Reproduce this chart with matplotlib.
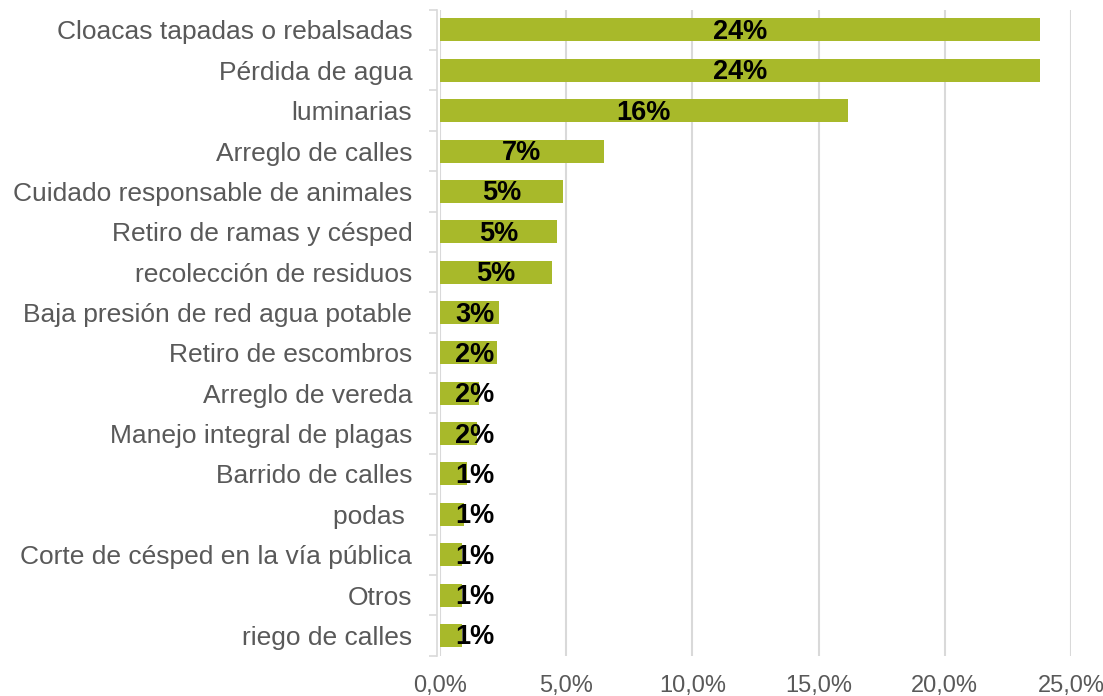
import matplotlib.pyplot as plt
import numpy as np
from matplotlib.ticker import FixedLocator, FuncFormatter

# datos (orden de arriba hacia abajo)
categorias = ["Cloacas tapadas o rebalsadas", "Pérdida de agua", "luminarias",
              "Arreglo de calles", "Cuidado responsable de animales",
              "Retiro de ramas y césped", "recolección de residuos",
              "Baja presión de red agua potable", "Retiro de escombros",
              "Arreglo de vereda", "Manejo integral de plagas", "Barrido de calles",
              "podas ", "Corte de césped en la vía pública", "Otros", "riego de calles"]
valores = [23.77, 23.77, 16.15, 6.48, 4.88, 4.64, 4.44, 2.34, 2.25,
           1.55, 1.46, 1.06, 0.95, 0.86, 0.86, 0.86]
etiquetas = ["24%", "24%", "16%", "7%", "5%", "5%", "5%", "3%", "2%",
             "2%", "2%", "1%", "1%", "1%", "1%", "1%"]
xticks = [0, 5, 10, 15, 20, 25]

plt.rcParams['font.family'] = ['Liberation Sans', 'DejaVu Sans']
gris = '#595959'
verde = '#A8B92A'

fig = plt.figure(figsize=(11.03, 6.96), dpi=100)
ax = fig.add_axes([0.399, 0.058, 0.572, 0.928])

n = len(categorias)
y = np.arange(n)
ax.barh(y, valores, height=0.57, color=verde, zorder=3)
ax.set_ylim(n - 0.5, -0.5)
ax.set_xlim(0, 25)

for yi, v, lab in zip(y, valores, etiquetas):
    xc = max(v / 2, 1.38)
    ax.text(xc, yi + 0.05, lab, ha='center', va='center', fontsize=19.5,
            fontweight='bold', color='black', zorder=4)

ax.set_yticks(y)
ax.set_yticklabels(categorias)
ax.yaxis.set_minor_locator(FixedLocator(np.arange(-0.5, n, 1)))
ax.tick_params(axis='y', which='major', length=0, pad=18, labelsize=19, labelcolor=gris)
ax.tick_params(axis='y', which='minor', length=6, width=1.2, color='#D9D9D9')

ax.set_xticks(xticks)
ax.xaxis.set_major_formatter(FuncFormatter(lambda v, p: f"{v:.1f}%".replace('.', ',')))
ax.tick_params(axis='x', length=0, pad=14, labelsize=17, labelcolor=gris)
ax.grid(axis='x', color='#D9D9D9', linewidth=1.5, zorder=0)

for s in ['top', 'right', 'bottom']:
    ax.spines[s].set_visible(False)
ax.spines['left'].set_color('#D9D9D9')
ax.spines['left'].set_linewidth(1.2)
ax.spines['left'].set_position(('outward', 2))

fig.savefig('out.png', dpi=100)
